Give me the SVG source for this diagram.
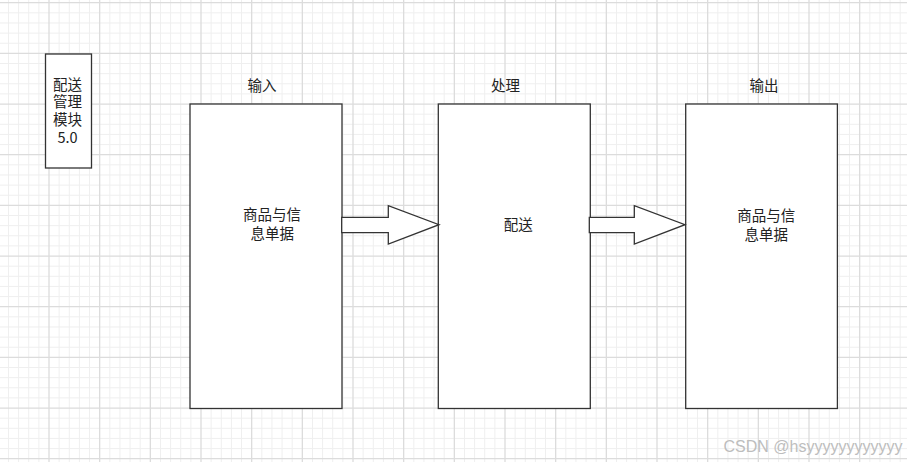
<svg xmlns="http://www.w3.org/2000/svg" width="907" height="462" viewBox="0 0 907 462">
<style>
.minor{stroke:#efefef;stroke-width:1;fill:none}
.major{stroke:#dcdcdc;stroke-width:1.3;fill:none}
.box{fill:#fff;stroke:#333;stroke-width:1.3}
.arrow{fill:#fff;stroke:#333;stroke-width:1.3;stroke-linejoin:miter}
.t{font-family:"Noto Sans CJK SC","Noto Sans",sans-serif;font-size:14.5px;fill:#222;text-anchor:middle}
.wm{font-family:"Liberation Sans",Arial,sans-serif;font-size:16px;fill:#bdbdbd}
</style>
<rect width="907" height="462" fill="#fff"/>
<g id="grid">
<path class="minor" d="M8.47 0V462M18.6 0V462M28.73 0V462M38.87 0V462M59.13 0V462M69.27 0V462M79.4 0V462M89.53 0V462M109.8 0V462M119.93 0V462M130.07 0V462M140.2 0V462M160.47 0V462M170.6 0V462M180.73 0V462M190.87 0V462M211.13 0V462M221.27 0V462M231.4 0V462M241.53 0V462M261.8 0V462M271.93 0V462M282.07 0V462M292.2 0V462M312.47 0V462M322.6 0V462M332.73 0V462M342.87 0V462M363.13 0V462M373.27 0V462M383.4 0V462M393.53 0V462M413.8 0V462M423.93 0V462M434.07 0V462M444.2 0V462M464.47 0V462M474.6 0V462M484.73 0V462M494.87 0V462M515.13 0V462M525.27 0V462M535.4 0V462M545.53 0V462M565.8 0V462M575.93 0V462M586.07 0V462M596.2 0V462M616.47 0V462M626.6 0V462M636.73 0V462M646.87 0V462M667.13 0V462M677.27 0V462M687.4 0V462M697.53 0V462M717.8 0V462M727.93 0V462M738.07 0V462M748.2 0V462M768.47 0V462M778.6 0V462M788.73 0V462M798.87 0V462M819.13 0V462M829.27 0V462M839.4 0V462M849.53 0V462M869.8 0V462M879.93 0V462M890.07 0V462M900.2 0V462
M0 12.83H907M0 22.97H907M0 33.1H907M0 43.23H907M0 63.5H907M0 73.63H907M0 83.77H907M0 93.9H907M0 114.17H907M0 124.3H907M0 134.43H907M0 144.57H907M0 164.83H907M0 174.97H907M0 185.1H907M0 195.23H907M0 215.5H907M0 225.63H907M0 235.77H907M0 245.9H907M0 266.17H907M0 276.3H907M0 286.43H907M0 296.57H907M0 316.83H907M0 326.97H907M0 337.1H907M0 347.23H907M0 367.5H907M0 377.63H907M0 387.77H907M0 397.9H907M0 418.17H907M0 428.3H907M0 438.43H907M0 448.57H907"/>
<path class="major" d="M49 0V462M99.67 0V462M150.33 0V462M201 0V462M251.67 0V462M302.33 0V462M353 0V462M403.67 0V462M454.33 0V462M505 0V462M555.67 0V462M606.33 0V462M657 0V462M707.67 0V462M758.33 0V462M809 0V462M859.67 0V462
M0 2.7H907M0 53.37H907M0 104.03H907M0 154.7H907M0 205.37H907M0 256.03H907M0 306.7H907M0 357.37H907M0 408.03H907M0 458.7H907"/>
</g>
<g id="module">
<rect class="box" x="45.5" y="54" width="46" height="114"/>
<text class="t"><tspan x="67.5" y="89.5">配送</tspan><tspan x="67.5" y="107.2">管理</tspan><tspan x="67.5" y="124.9">模块</tspan><tspan x="67.5" y="142.6">5.0</tspan></text>
</g>
<g id="input">
<text class="t" x="262" y="91">输入</text>
<rect class="box" x="190" y="104" width="152" height="304.5"/>
<text class="t"><tspan x="272" y="220.4">商品与信</tspan><tspan x="272.3" y="239">息单据</tspan></text>
</g>
<g id="process">
<text class="t" x="505.5" y="90.5">处理</text>
<rect class="box" x="438.3" y="104" width="152" height="304.5"/>
<text class="t" x="518.3" y="229.6">配送</text>
</g>
<g id="output">
<text class="t" x="764" y="91">输出</text>
<rect class="box" x="685.7" y="104" width="151.7" height="304.5"/>
<text class="t"><tspan x="766.3" y="220.6">商品与信</tspan><tspan x="766.3" y="239.8">息单据</tspan></text>
</g>
<g id="connectors">
<path class="arrow" d="M341.7 217.3H388.3V205.7L439 224.7L388.3 244V232.7H341.7Z"/>
<path class="arrow" d="M589.3 217.3H634.3V205.7L685 224.7L634.3 244V232.7H589.3Z"/>
</g>
<text class="wm" x="723.5" y="451.7">CSDN @hsyyyyyyyyyyyy</text>
</svg>
